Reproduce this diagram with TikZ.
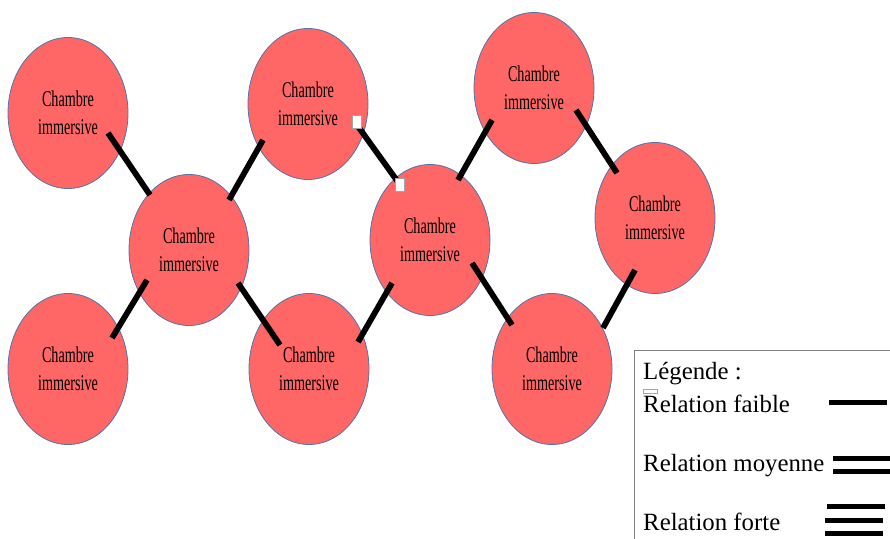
\documentclass[tikz,border=0pt]{standalone}
\usepackage{fontspec}
\setmainfont{Liberation Serif}
\newfontfamily\roomfont[FakeStretch=0.63]{Liberation Serif}
\usetikzlibrary{calc,shapes.geometric}
\definecolor{room}{HTML}{FF6666}
\definecolor{roomedge}{HTML}{4F76A8}
\definecolor{frame}{HTML}{7F7F7F}
\definecolor{spellmark}{HTML}{F08C6C}

\begin{document}
\begin{tikzpicture}[
  x=1pt,y=-1pt,
  room/.style={ellipse,draw=roomedge,fill=room,line width=0.8pt,minimum width=120pt,
               minimum height=151pt,inner sep=0pt,align=center,
               font=\roomfont\fontsize{22.5}{28}\selectfont},
  rel/.style={draw=black,line width=5.8pt},
  swatch/.style={draw=black,line width=5pt},
  handle/.style={draw=frame!70,fill=white,line width=0.6pt,minimum width=9pt,
                 minimum height=13pt,inner sep=0pt},
  leg/.style={anchor=base west,inner sep=0pt,font=\fontsize{24.8}{28}\selectfont},
]
\useasboundingbox (0,0) rectangle (890,538);

%---------------------------------------------------------------- rooms ---
\foreach \nm/\x/\y in {c1/68/113, c2/189/250, c3/308/104, c4/68/369, c5/309/369,
                       c6/430/240, c7/534/88, c8/655/218, c9/552/369}{
  \node[room] (\nm) at (\x,\y) {Chambre\\immersive};
}

%------------------------------------------------------------ relations ---
\foreach \a/\ax/\ay/\b/\bx/\by in {c1/40/20/c2/-39/-55, c2/40/-50/c3/-45/36,
    c3/49/21/c6/-32/-58, c6/28/-60/c7/-42/32, c7/42/22/c8/-38/-45,
    c2/-42/30/c4/44/-31, c2/49/33/c5/-29/-24, c6/-38/43/c5/49/-27,
    c6/42/23/c9/-40/-44, c8/-20/52/c9/51/-41}{
  \draw[rel] ($(\a)+(\ax,\ay)$) -- ($(\b)+(\bx,\by)$);
}
\node[handle] (h1) at ($(c3)+(49,18)$) {};
\node[handle] (h2) at ($(c6)+(-30,-55)$) {};

%--------------------------------------------------------------- legend ---
\node[draw=frame,line width=1.2pt,anchor=north west,minimum width=262pt,
      minimum height=200pt] (legend) at (634,350) {};
\node[leg] (lgd) at (643,379) {Légende :};
\draw[spellmark,line width=0.6pt] (643,389) rectangle (657,393);
\node[leg] (lfa) at (643,412) {Relation faible};
\node[leg] (lmo) at (643,471) {Relation moyenne};
\node[leg] (lfo) at (643,530) {Relation forte};

\draw[swatch] (829,402) -- (887,402);
\foreach \y in {458,471}{\draw[swatch] (833,\y) -- (891,\y);}
\draw[swatch] (827,506) -- (885,506);
\foreach \y in {520,533}{\draw[swatch] (825,\y) -- (883,\y);}

\end{tikzpicture}
\end{document}
